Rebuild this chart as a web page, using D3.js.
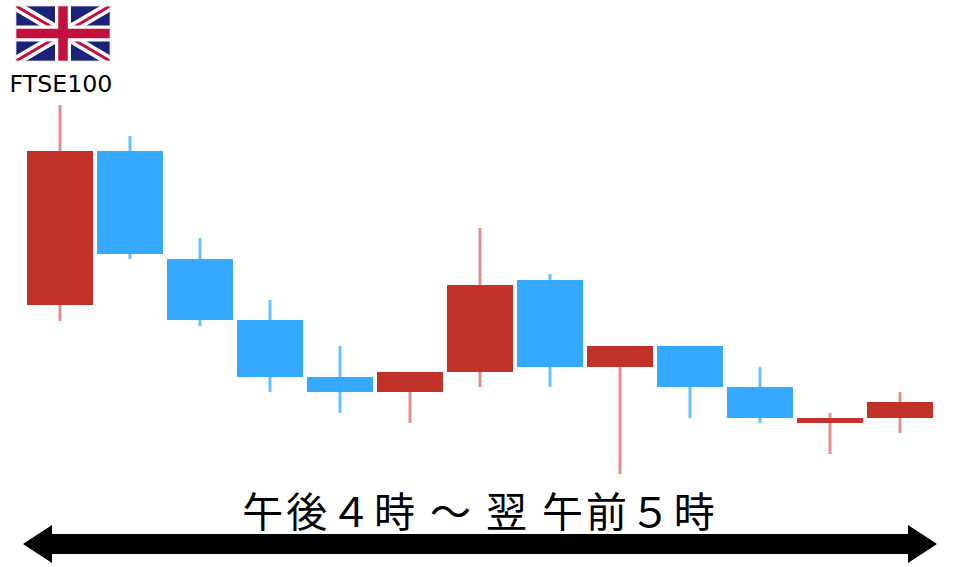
<!DOCTYPE html>
<html><head><meta charset="utf-8">
<style>html,body{margin:0;padding:0;background:#fff}svg{display:block}</style>
<script src="https://cdn.jsdelivr.net/npm/d3@7"></script></head>
<body><svg id="c" width="960" height="567"></svg>
<script>
const categories = ["16","17","18","19","20","21","22","23","0","1","2","3","4"];
const opens  = [48.75,87.25,60.25,45,30.75,27,32,55,33.25,38.5,28.25,19.25,20.5];
const closes = [87.25,61.5,45,30.75,27,32,53.75,33.25,38.5,28.25,20.5,20.5,24.5];
const highs  = [98.75,91,65.5,50,38.5,32,68,56.5,38.5,38.5,33.25,21.75,27];
const lows   = [44.75,60.25,43.5,27,21.75,19.25,28.25,28.25,6.5,20.5,19.25,11.5,16.75];
const indexName = "FTSE100";
const spanLabel = "午後４時 ～ 翌 午前５時";
const RED = "#c1302b", BLUE = "#36a9ff", RED_W = "#e29090", BLUE_W = "#66c3ff";

const svg = d3.select("#c");
const x = d3.scaleBand().domain(categories).range([25, 935]).paddingInner(4/70).paddingOuter(2/70);
const y = d3.scaleLinear().domain([0, 100]).range([500, 100]);
const rows = categories.map((c, i) => ({c, o: opens[i], cl: closes[i], h: highs[i], l: lows[i]}));

const defs = svg.append("defs");
defs.append("filter").attr("id", "soft").attr("x", "-5%").attr("y", "-5%").attr("width", "110%").attr("height", "110%")
  .append("feGaussianBlur").attr("stdDeviation", 0.6);
defs.append("clipPath").attr("id", "flagClip").append("rect").attr("x", 16).attr("y", 6).attr("width", 94).attr("height", 55);

const g = svg.append("g").attr("filter", "url(#soft)");
const cx = d => x(d.c) + x.bandwidth() / 2;
g.selectAll(".wick").data(rows).join("line").attr("class", "wick")
  .attr("x1", cx).attr("x2", cx).attr("y1", d => y(d.h)).attr("y2", d => y(d.l))
  .attr("stroke", d => d.cl >= d.o ? RED_W : BLUE_W).attr("stroke-width", 3);
g.selectAll(".body").data(rows).join("rect").attr("class", "body")
  .attr("x", d => x(d.c)).attr("width", x.bandwidth())
  .attr("y", d => y(Math.max(d.o, d.cl))).attr("height", d => Math.abs(y(d.o) - y(d.cl)))
  .attr("fill", d => d.cl >= d.o ? RED : BLUE);

// Union flag
const f = svg.append("g").attr("clip-path", "url(#flagClip)");
const NAVY = "#1a2378", CRIM = "#c4103f";
f.append("rect").attr("x", 16).attr("y", 6).attr("width", 94).attr("height", 55).attr("fill", NAVY);
f.append("path").attr("d", "M16 6L110 61M110 6L16 61").attr("stroke", "#fff").attr("stroke-width", 10);
f.append("path").attr("d", "M16 6L59 31.2M67 35.8L110 61M110 6L67 31.2M59 35.8L16 61").attr("stroke", CRIM).attr("stroke-width", 3);
f.append("path").attr("d", "M63 6V61M16 33.5H110").attr("stroke", "#fff").attr("stroke-width", 16);
f.append("path").attr("d", "M63 6V61M16 33.5H110").attr("stroke", CRIM).attr("stroke-width", 9.5);
svg.append("rect").attr("x", 16).attr("y", 6).attr("width", 94).attr("height", 55)
  .attr("fill", "none").attr("stroke", "#ddd").attr("stroke-width", 0.8);

svg.append("text").attr("x", 61).attr("y", 92).attr("text-anchor", "middle")
  .attr("font-family", "'DejaVu Sans', Verdana, sans-serif").attr("font-size", 23.7).attr("fill", "#000").text(indexName);

svg.append("text").attr("x", 480).attr("y", 527).attr("text-anchor", "middle")
  .attr("font-family", "'Noto Sans CJK JP', sans-serif").attr("font-size", 41).attr("letter-spacing", 2.9).attr("fill", "#000").text(spanLabel);

// Double-headed arrow
svg.append("path").attr("fill", "#000")
  .attr("d", "M23 544L52 525V534H908V525L937 544L908 563V554H52V563Z");
</script></body></html>
